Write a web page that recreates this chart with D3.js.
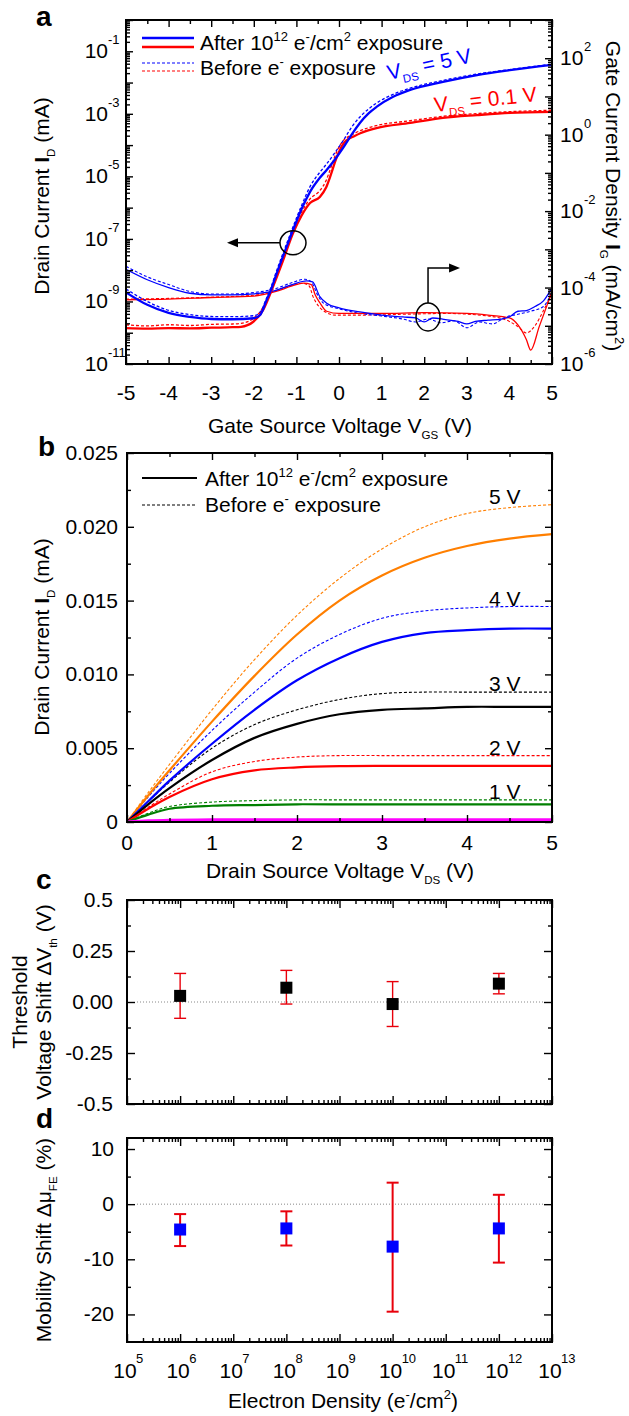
<!DOCTYPE html>
<html>
<head>
<meta charset="utf-8">
<script src="https://cdn.jsdelivr.net/npm/d3@7"></script>
<style>
  body { margin: 0; background: #fff; }
  svg text { font-family: "Liberation Sans", Arial, Helvetica, sans-serif; fill: #000; }
</style>
</head>
<body>
<svg id="fig" width="629" height="1416"></svg>
<script>
// ---------------- Panel a: transfer curves (VGS sweep) ----------------
// drain current I_D in mA, [VGS, I_D]
const idBlueAfter = [[-5,1.95e-9],[-4.5,7.8e-10],[-4,4.3e-10],[-3.5,3.2e-10],[-3,2.75e-10],[-2.5,2.7e-10],[-2,2.9e-10],[-1.85,3.7e-10],[-1.7,1.1e-9],[-1.6,2.3e-9],[-1.46,8.1e-9],[-1.23,5.6e-8],[-1.0,3.6e-7],[-0.85,1.1e-6],[-0.68,3.2e-6],[-0.45,9.0e-6],[-0.29,1.6e-5],[-0.1,3.4e-5],[0.1,8.3e-5],[0.3,2.2e-4],[0.49,5.1e-4],[0.7,1.05e-3],[0.88,1.66e-3],[1.27,3.5e-3],[1.67,5.8e-3],[2.44,1.05e-2],[3.24,1.74e-2],[4.01,2.5e-2],[5,3.7e-2]];
const idBlueBefore = [[-5,2.5e-9],[-4.5,1.0e-9],[-4,5.2e-10],[-3.5,3.8e-10],[-3,3.3e-10],[-2.5,3.25e-10],[-2,3.5e-10],[-1.85,4.5e-10],[-1.7,1.3e-9],[-1.6,2.8e-9],[-1.46,1.0e-8],[-1.23,7.0e-8],[-1.0,4.6e-7],[-0.85,1.45e-6],[-0.68,4.7e-6],[-0.45,1.35e-5],[-0.29,2.5e-5],[-0.1,5.6e-5],[0.1,1.4e-4],[0.3,3.8e-4],[0.49,7.9e-4],[0.7,1.45e-3],[0.88,2.2e-3],[1.27,4.2e-3],[1.67,6.6e-3],[2.44,1.17e-2],[3.24,1.86e-2],[4.01,2.6e-2],[5,3.9e-2]];
const idRedAfter = [[-5,1.4e-10],[-4.5,1.35e-10],[-4,1.4e-10],[-3.5,1.38e-10],[-3,1.45e-10],[-2.5,1.5e-10],[-2.3,1.55e-10],[-2.02,2.2e-10],[-1.78,5.4e-10],[-1.55,2.95e-9],[-1.31,2.1e-8],[-1.08,1.5e-7],[-0.88,5.5e-7],[-0.68,1.4e-6],[-0.45,2.2e-6],[-0.3,4.5e-6],[-0.21,9.5e-6],[-0.05,4.2e-5],[0.1,1.1e-4],[0.2,1.5e-4],[0.33,1.85e-4],[0.5,2.4e-4],[0.88,3.5e-4],[1.67,5.1e-4],[2.44,7.4e-4],[3.24,9.1e-4],[4.01,1.07e-3],[5,1.15e-3]];
const idRedBefore = [[-5,1.8e-10],[-4.5,1.65e-10],[-4,1.8e-10],[-3.5,1.7e-10],[-3,1.85e-10],[-2.5,1.9e-10],[-2.3,2.0e-10],[-2.02,2.8e-10],[-1.78,6.6e-10],[-1.55,3.6e-9],[-1.31,2.6e-8],[-1.08,1.9e-7],[-0.88,7.2e-7],[-0.68,1.9e-6],[-0.45,3.5e-6],[-0.3,7.5e-6],[-0.21,1.6e-5],[-0.05,6.3e-5],[0.1,1.4e-4],[0.2,1.8e-4],[0.33,2.25e-4],[0.5,2.9e-4],[0.88,4.2e-4],[1.67,6.0e-4],[2.44,8.3e-4],[3.24,1.02e-3],[4.01,1.17e-3],[5,1.3e-3]];

// gate current density I_G in mA/cm^2, [VGS, I_G]
const igBlueAfter = [[-5,3.0e-4],[-4.5,1.6e-4],[-4,1.0e-4],[-3.5,7.1e-5],[-3,6.4e-5],[-2.5,6.4e-5],[-2,6.8e-5],[-1.5,8.3e-5],[-1.1,1.2e-4],[-0.76,1.5e-4],[-0.62,1.4e-4],[-0.45,5.8e-5],[-0.29,3.9e-5],[0.02,2.9e-5],[0.49,2.3e-5],[1.0,1.9e-5],[1.5,1.7e-5],[1.8,1.6e-5],[2.0,1.26e-5],[2.2,1.6e-5],[2.5,1.45e-5],[2.8,1.3e-5],[3.0,1.12e-5],[3.2,1.3e-5],[3.5,1.4e-5],[3.8,1.5e-5],[4.0,1.7e-5],[4.2,2.4e-5],[4.4,2.5e-5],[4.6,3.2e-5],[4.8,4.5e-5],[5,1.0e-4]];
const igBlueBefore = [[-5,3.6e-4],[-4.5,1.9e-4],[-4,1.2e-4],[-3.5,7.9e-5],[-3,6.8e-5],[-2.5,6.8e-5],[-2,7.4e-5],[-1.5,9.3e-5],[-1.1,1.35e-4],[-0.8,1.65e-4],[-0.65,1.4e-4],[-0.5,6.3e-5],[-0.35,3.8e-5],[0,2.8e-5],[0.5,2.1e-5],[1,1.8e-5],[1.5,1.5e-5],[1.8,1.26e-5],[2.1,1.5e-5],[2.4,1.2e-5],[2.7,1.35e-5],[3.0,8.9e-6],[3.3,1.26e-5],[3.6,1.12e-5],[3.9,1.66e-5],[4.2,2.0e-5],[4.5,2.4e-5],[4.8,3.2e-5],[5,7.9e-5]];
const igRedAfter = [[-5,4.8e-5],[-4,5.0e-5],[-3,5.5e-5],[-2,6.0e-5],[-1.5,7.8e-5],[-1.1,1.1e-4],[-0.84,1.3e-4],[-0.65,1.2e-4],[-0.56,6.5e-5],[-0.45,4.0e-5],[-0.29,2.4e-5],[0,2.1e-5],[1,2.1e-5],[2,2.2e-5],[3,2.1e-5],[3.5,1.9e-5],[4.0,1.6e-5],[4.2,1.05e-5],[4.4,4.3e-6],[4.5,2.3e-6],[4.7,9.5e-6],[5,7.8e-5]];
const igRedBefore = [[-5,5.0e-5],[-4,5.2e-5],[-3,5.6e-5],[-2,6.3e-5],[-1.5,8.3e-5],[-1.1,1.15e-4],[-0.85,1.3e-4],[-0.7,1.1e-4],[-0.61,5.8e-5],[-0.45,3.0e-5],[-0.29,2.2e-5],[-0.1,1.9e-5],[0.5,1.9e-5],[1.5,2.0e-5],[2.5,2.1e-5],[3.5,1.8e-5],[4.0,1.3e-5],[4.2,9.5e-6],[4.4,6.5e-6],[4.6,1.0e-5],[4.8,2.5e-5],[5,7.1e-5]];

const vgsTicks = [-5,-4,-3,-2,-1,0,1,2,3,4,5];
const vgsTickLabels = ['-5','-4','-3','-2','-1','0','1','2','3','4','5'];
const idLabelExps = [-1,-3,-5,-7,-9,-11];
const igLabelExps = [2,0,-2,-4,-6];

// ---------------- Panel b: output curves (VDS sweep) ----------------
const vds = [0,0.25,0.5,1,1.5,2,2.5,3,3.5,4,4.5,5];
const vgsSteps = ['5 V','4 V','3 V','2 V','1 V','0 V'];
const outColors = ['#ff7f00','#0000ff','#000000','#ff0000','#008000','#ff00ff'];
const outAfter = [
  [0,0.0018,0.0035,0.0068,0.0099,0.0127,0.0150,0.0167,0.0179,0.0187,0.0192,0.0195],
  [0,0.0014,0.0028,0.0053,0.0076,0.0096,0.0111,0.0122,0.0128,0.0130,0.0131,0.0131],
  [0,0.0012,0.0023,0.0042,0.0057,0.00665,0.0073,0.0076,0.0077,0.0078,0.0078,0.0078],
  [0,0.0009,0.0017,0.0029,0.0035,0.0037,0.00378,0.0038,0.0038,0.0038,0.0038,0.0038],
  [0,0.0005,0.0009,0.0011,0.00115,0.0012,0.0012,0.0012,0.0012,0.0012,0.0012,0.0012],
  [0,0.00008,0.00012,0.00015,0.00015,0.00015,0.00015,0.00015,0.00015,0.00015,0.00015,0.00015]
];
const outBefore = [
  [0,0.0020,0.0039,0.0076,0.0110,0.0140,0.0165,0.0185,0.0200,0.0209,0.0213,0.0215],
  [0,0.0017,0.0033,0.0062,0.0088,0.0111,0.0127,0.0138,0.0143,0.0145,0.0146,0.0146],
  [0,0.0014,0.0027,0.0050,0.0066,0.0076,0.0083,0.0087,0.0088,0.0088,0.0088,0.0088],
  [0,0.0010,0.0019,0.0034,0.0041,0.0044,0.0045,0.0045,0.0045,0.0045,0.0045,0.0045],
  [0,0.0006,0.00105,0.00135,0.00145,0.0015,0.0015,0.0015,0.0015,0.0015,0.0015,0.0015],
  [0,0.00005,0.00008,0.0001,0.0001,0.0001,0.0001,0.0001,0.0001,0.0001,0.0001,0.0001]
];
const vdsTicks = [0,1,2,3,4,5];
const idLinTicks = [0,0.005,0.010,0.015,0.020,0.025];
const idLinLabels = ['0','0.005','0.010','0.015','0.020','0.025'];

// ---------------- Panels c, d: shifts vs electron density ----------------
const density = [1e6,1e8,1e10,1e12];
const dVth = [0.03,0.07,-0.01,0.09];
const dVthLow = [-0.08,-0.01,-0.12,0.04];
const dVthHigh = [0.14,0.155,0.10,0.14];
const dMu = [-4.6,-4.4,-7.7,-4.4];
const dMuLow = [-7.6,-7.5,-19.5,-10.6];
const dMuHigh = [-1.8,-1.3,3.9,1.7];
const densityExps = [5,6,7,8,9,10,11,12,13];
const vthTicks = [0.5,0.25,0,-0.25,-0.5];
const vthLabels = ['0.5','0.25','0.00','-0.25','-0.5'];
const muTicks = [10,0,-10,-20];
const muLabels = ['10','0','-10','-20'];

// =====================================================================
const svg = d3.select('#fig');
const TICK = 21, SUP = 13;

// text with inline super/subscripts; parts = [[string, kind]]
function rich(sel, parts, size) {
  let off = 0;
  parts.forEach(([s, k]) => {
    const t = sel.append('tspan').text(s);
    let target = 0, fs = size;
    if (k === 'sup') { target = -size * 0.42; fs = size * 0.62; }
    if (k === 'sub') { target = size * 0.28; fs = size * 0.55; }
    if (k === 'b') t.attr('font-weight', 'bold');
    t.attr('font-size', fs).attr('dy', (target - off).toFixed(2));
    off = target;
  });
  return sel;
}

// inward tick marks along one side of a frame
function ticks(scale, orient, pos, values, len) {
  const mk = { bottom: d3.axisBottom, top: d3.axisTop, left: d3.axisLeft, right: d3.axisRight }[orient];
  const ax = mk(scale).tickValues(values).tickSize(-len).tickSizeOuter(0).tickFormat('');
  const tr = (orient === 'bottom' || orient === 'top') ? `translate(0,${pos})` : `translate(${pos},0)`;
  const g = svg.append('g').attr('transform', tr).call(ax);
  g.select('.domain').remove();
  g.selectAll('text').remove();
  g.selectAll('line').attr('stroke', '#000').attr('stroke-width', 1.4);
}

function frame(x, y) {
  const [x0, x1] = x.range(), [y0, y1] = y.range();
  svg.append('rect').attr('x', Math.min(x0, x1)).attr('y', Math.min(y0, y1))
    .attr('width', Math.abs(x1 - x0)).attr('height', Math.abs(y1 - y0))
    .attr('fill', 'none').attr('stroke', '#000').attr('stroke-width', 2);
}

function logTickSet(lo, hi) {
  const major = [], minor = [];
  for (let e = lo; e <= hi; e++) {
    major.push(Math.pow(10, e));
    if (e < hi) for (let m = 2; m <= 9; m++) minor.push(m * Math.pow(10, e));
  }
  return { major, minor };
}

function clip(id, x, y) {
  const [x0, x1] = x.range(), [y0, y1] = y.range();
  svg.append('clipPath').attr('id', id).append('rect')
    .attr('x', x0).attr('y', Math.min(y0, y1)).attr('width', x1 - x0).attr('height', Math.abs(y1 - y0));
}

function letter(s, x, y) {
  svg.append('text').attr('x', x).attr('y', y).attr('font-size', 28).attr('font-weight', 'bold').text(s);
}

function arrowHead(x, y, dir) {
  const L = 11, w = 4.5;
  const pts = dir === 'left' ? [[x, y], [x + L, y - w], [x + L, y + w]] : [[x, y], [x - L, y - w], [x - L, y + w]];
  svg.append('polygon').attr('points', pts.map(p => p.join(',')).join(' ')).attr('fill', '#000');
}

// ---------------- Panel a ----------------
const xA = d3.scaleLinear([-5, 5], [126, 552]);
const yL = d3.scaleLog([1e-11, 1], [364, 20]);
const yR = d3.scaleLog([1e-6, 1e3], [364, 20]);
clip('clipA', xA, yL);

const lineL = d3.line().x(d => xA(d[0])).y(d => yL(d[1])).curve(d3.curveMonotoneX);
const lineR = d3.line().x(d => xA(d[0])).y(d => yR(d[1])).curve(d3.curveMonotoneX);
const gA = svg.append('g').attr('clip-path', 'url(#clipA)');
const seriesA = [
  [igRedBefore, lineR, '#ff0000', 1.1, '3,2'],
  [igBlueBefore, lineR, '#0000ff', 1.1, '3,2'],
  [igRedAfter, lineR, '#ff0000', 1.3, null],
  [igBlueAfter, lineR, '#0000ff', 1.3, null],
  [idRedBefore, lineL, '#ff0000', 1.3, '3,2'],
  [idBlueBefore, lineL, '#0000ff', 1.3, '3,2'],
  [idRedAfter, lineL, '#ff0000', 2.3, null],
  [idBlueAfter, lineL, '#0000ff', 2.3, null]
];
seriesA.forEach(([d, gen, c, w, dash]) => {
  gA.append('path').attr('d', gen(d)).attr('fill', 'none').attr('stroke', c)
    .attr('stroke-width', w).attr('stroke-dasharray', dash);
});

frame(xA, yL);
const halfA = d3.range(-10, 11).filter(i => i % 2 !== 0).map(i => i / 2);
ticks(xA, 'bottom', 364, vgsTicks, 7); ticks(xA, 'bottom', 364, halfA, 4);
ticks(xA, 'top', 20, vgsTicks, 7); ticks(xA, 'top', 20, halfA, 4);
const lt = logTickSet(-11, 0), rt = logTickSet(-6, 3);
ticks(yL, 'left', 126, lt.major, 7); ticks(yL, 'left', 126, lt.minor, 4);
ticks(yR, 'right', 552, rt.major, 7); ticks(yR, 'right', 552, rt.minor, 4);

vgsTicks.forEach((v, i) => {
  svg.append('text').attr('x', xA(v)).attr('y', 400).attr('text-anchor', 'middle')
    .attr('font-size', TICK).text(vgsTickLabels[i]);
});
idLabelExps.forEach(e => {
  const y = yL(Math.pow(10, e));
  svg.append('text').attr('x', 108).attr('y', y + 7).attr('text-anchor', 'end').attr('font-size', TICK).text('10');
  svg.append('text').attr('x', 108).attr('y', y - 7).attr('font-size', SUP).text(String(e));
});
igLabelExps.forEach(e => {
  const y = yR(Math.pow(10, e));
  svg.append('text').attr('x', 560).attr('y', y + 7).attr('font-size', TICK).text('10');
  svg.append('text').attr('x', 584).attr('y', y - 7).attr('font-size', SUP).text(String(e));
});

rich(svg.append('text').attr('x', 340).attr('y', 433).attr('text-anchor', 'middle').attr('font-size', TICK),
  [['Gate Source Voltage V', 'n'], ['GS', 'sub'], [' (V)', 'n']], TICK);
rich(svg.append('text').attr('transform', 'translate(49,196) rotate(-90)').attr('text-anchor', 'middle').attr('font-size', TICK),
  [['Drain Current ', 'n'], ['I', 'b'], ['D', 'sub'], [' (mA)', 'n']], TICK);
rich(svg.append('text').attr('transform', 'translate(606,196) rotate(90)').attr('text-anchor', 'middle').attr('font-size', TICK),
  [['Gate Current Density ', 'n'], ['I', 'b'], ['G', 'sub'], [' (mA/cm', 'n'], ['2', 'sup'], [')', 'n']], TICK);

// legend a
[[38, '#0000ff', 2.3, null], [47, '#ff0000', 2.3, null], [63, '#0000ff', 1.2, '3,2'], [71, '#ff0000', 1.2, '3,2']]
  .forEach(([y, c, w, dash]) => svg.append('line').attr('x1', 142).attr('x2', 194).attr('y1', y).attr('y2', y)
    .attr('stroke', c).attr('stroke-width', w).attr('stroke-dasharray', dash));
rich(svg.append('text').attr('x', 200).attr('y', 50).attr('font-size', TICK),
  [['After 10', 'n'], ['12', 'sup'], [' e', 'n'], ['-', 'sup'], ['/cm', 'n'], ['2', 'sup'], [' exposure', 'n']], TICK);
rich(svg.append('text').attr('x', 200).attr('y', 75).attr('font-size', TICK),
  [['Before e', 'n'], ['-', 'sup'], [' exposure', 'n']], TICK);

// curve labels a
rich(svg.append('text').attr('transform', `translate(${xA(1.17)},${yL(1.2e-2)}) rotate(-12)`).attr('font-size', TICK)
  .style('fill', '#0000ff'), [['V', 'n'], ['DS', 'sub'], [' = 5 V', 'n']], TICK);
rich(svg.append('text').attr('transform', `translate(${xA(2.25)},${yL(1.15e-3)}) rotate(-6)`).attr('font-size', TICK)
  .style('fill', '#ff0000'), [['V', 'n'], ['DS', 'sub'], [' = 0.1 V', 'n']], TICK);

// axis indicators a
{
  const cx = xA(-1.08), cy = yL(7.5e-8);
  svg.append('ellipse').attr('cx', cx).attr('cy', cy).attr('rx', 13).attr('ry', 12)
    .attr('fill', 'none').attr('stroke', '#000').attr('stroke-width', 1.5);
  svg.append('line').attr('x1', cx - 13).attr('x2', cx - 56).attr('y1', cy).attr('y2', cy).attr('stroke', '#000').attr('stroke-width', 1.5);
  arrowHead(cx - 66, cy, 'left');
  const cx2 = xA(2.09), cy2 = yR(1.7e-5);
  svg.append('ellipse').attr('cx', cx2).attr('cy', cy2).attr('rx', 12).attr('ry', 14)
    .attr('fill', 'none').attr('stroke', '#000').attr('stroke-width', 1.5);
  svg.append('polyline').attr('points', `${cx2},${cy2 - 14} ${cx2},${cy2 - 49} ${cx2 + 22},${cy2 - 49}`)
    .attr('fill', 'none').attr('stroke', '#000').attr('stroke-width', 1.5);
  arrowHead(cx2 + 32, cy2 - 49, 'right');
}
letter('a', 36, 26);

// ---------------- Panel b ----------------
const xB = d3.scaleLinear([0, 5], [127, 552]);
const yB = d3.scaleLinear([0, 0.025], [822, 453]);
clip('clipB', xB, yB);
const gB = svg.append('g').attr('clip-path', 'url(#clipB)');
const lineB = d3.line().x(d => xB(d[0])).y(d => yB(d[1])).curve(d3.curveCatmullRom.alpha(0.5));
outBefore.forEach((s, i) => {
  gB.append('path').attr('d', lineB(vds.map((v, j) => [v, s[j]]))).attr('fill', 'none')
    .attr('stroke', outColors[i]).attr('stroke-width', 1.1).attr('stroke-dasharray', '3,2');
});
outAfter.forEach((s, i) => {
  gB.append('path').attr('d', lineB(vds.map((v, j) => [v, s[j]]))).attr('fill', 'none')
    .attr('stroke', outColors[i]).attr('stroke-width', i === 5 ? 3 : 2.2);
});
frame(xB, yB);
const halfB = [0.5, 1.5, 2.5, 3.5, 4.5];
ticks(xB, 'bottom', 822, vdsTicks, 7); ticks(xB, 'bottom', 822, halfB, 4);
ticks(xB, 'top', 453, vdsTicks, 7); ticks(xB, 'top', 453, halfB, 4);
const minorB = [0.0025, 0.0075, 0.0125, 0.0175, 0.0225];
ticks(yB, 'left', 127, idLinTicks, 7); ticks(yB, 'left', 127, minorB, 4);
ticks(yB, 'right', 552, idLinTicks, 7); ticks(yB, 'right', 552, minorB, 4);
vdsTicks.forEach(v => svg.append('text').attr('x', xB(v)).attr('y', 850).attr('text-anchor', 'middle')
  .attr('font-size', TICK).text(String(v)));
idLinTicks.forEach((v, i) => svg.append('text').attr('x', 118).attr('y', yB(v) + 7).attr('text-anchor', 'end')
  .attr('font-size', TICK).text(idLinLabels[i]));
rich(svg.append('text').attr('x', 340).attr('y', 878).attr('text-anchor', 'middle').attr('font-size', TICK),
  [['Drain Source Voltage V', 'n'], ['DS', 'sub'], [' (V)', 'n']], TICK);
rich(svg.append('text').attr('transform', 'translate(49,637) rotate(-90)').attr('text-anchor', 'middle').attr('font-size', TICK),
  [['Drain Current ', 'n'], ['I', 'b'], ['D', 'sub'], [' (mA)', 'n']], TICK);
// step labels, sitting on each dashed curve end
vgsSteps.slice(0, 5).forEach((s, i) => {
  svg.append('text').attr('x', xB(4.63)).attr('y', yB(outBefore[i][vds.length - 1]) - 1)
    .attr('text-anchor', 'end').attr('font-size', TICK).text(s);
});
svg.append('line').attr('x1', 142).attr('x2', 197).attr('y1', 478).attr('y2', 478).attr('stroke', '#000').attr('stroke-width', 2.2);
svg.append('line').attr('x1', 142).attr('x2', 197).attr('y1', 505).attr('y2', 505).attr('stroke', '#000').attr('stroke-width', 1.1).attr('stroke-dasharray', '3,2');
rich(svg.append('text').attr('x', 205).attr('y', 486).attr('font-size', TICK),
  [['After 10', 'n'], ['12', 'sup'], [' e', 'n'], ['-', 'sup'], ['/cm', 'n'], ['2', 'sup'], [' exposure', 'n']], TICK);
rich(svg.append('text').attr('x', 205).attr('y', 512).attr('font-size', TICK),
  [['Before e', 'n'], ['-', 'sup'], [' exposure', 'n']], TICK);
letter('b', 38, 456);

// ---------------- Panels c and d ----------------
const xC = d3.scaleLog([1e5, 1e13], [127, 552]);
const yC = d3.scaleLinear([-0.5, 0.5], [1104, 900]);
const yD = d3.scaleLinear([-25, 12], [1342, 1138]);
const dt = logTickSet(5, 13);

function shiftPanel(y, vals, lo, hi, fill, barW, major, minor, top, bottom) {
  svg.append('line').attr('x1', 137).attr('x2', 545).attr('y1', y(0)).attr('y2', y(0))
    .attr('stroke', '#888').attr('stroke-width', 1).attr('stroke-dasharray', '1,2');
  density.forEach((n, i) => {
    const x = xC(n);
    svg.append('line').attr('x1', x).attr('x2', x).attr('y1', y(lo[i])).attr('y2', y(hi[i]))
      .attr('stroke', '#e8000b').attr('stroke-width', barW);
    [lo[i], hi[i]].forEach(v => svg.append('line').attr('x1', x - 6).attr('x2', x + 6)
      .attr('y1', y(v)).attr('y2', y(v)).attr('stroke', '#e8000b').attr('stroke-width', barW));
    svg.append('rect').attr('x', x - 6).attr('y', y(vals[i]) - 6).attr('width', 12).attr('height', 12).attr('fill', fill);
  });
  frame(xC, y);
  ticks(xC, 'bottom', bottom, dt.major, 8); ticks(xC, 'bottom', bottom, dt.minor, 4);
  ticks(xC, 'top', top, dt.major, 8); ticks(xC, 'top', top, dt.minor, 4);
  ticks(y, 'left', 127, major, 8); ticks(y, 'left', 127, minor, 4);
  ticks(y, 'right', 552, major, 8); ticks(y, 'right', 552, minor, 4);
}

shiftPanel(yC, dVth, dVthLow, dVthHigh, '#000', 1.4, vthTicks, [0.375, 0.125, -0.125, -0.375], 900, 1104);
vthTicks.forEach((v, i) => svg.append('text').attr('x', 113).attr('y', yC(v) + 7).attr('text-anchor', 'end')
  .attr('font-size', TICK).text(vthLabels[i]));
svg.append('text').attr('transform', 'translate(27,1002) rotate(-90)').attr('text-anchor', 'middle')
  .attr('font-size', TICK).text('Threshold');
rich(svg.append('text').attr('transform', 'translate(51,1002) rotate(-90)').attr('text-anchor', 'middle').attr('font-size', TICK),
  [['Voltage Shift \u0394V', 'n'], ['th', 'sub'], [' (V)', 'n']], TICK);
letter('c', 36, 889);

shiftPanel(yD, dMu, dMuLow, dMuHigh, '#0000ff', 2, muTicks, [5, -5, -15], 1138, 1342);
muTicks.forEach((v, i) => svg.append('text').attr('x', 114).attr('y', yD(v) + 7).attr('text-anchor', 'end')
  .attr('font-size', TICK).text(muLabels[i]));
densityExps.forEach(e => {
  const x = xC(Math.pow(10, e));
  svg.append('text').attr('x', x - 2).attr('y', 1378).attr('text-anchor', 'middle').attr('font-size', TICK).text('10');
  svg.append('text').attr('x', x + 9).attr('y', 1363).attr('font-size', SUP).text(String(e));
});
rich(svg.append('text').attr('transform', 'translate(51,1240) rotate(-90)').attr('text-anchor', 'middle').attr('font-size', TICK),
  [['Mobility Shift \u0394\u03bc', 'n'], ['FE', 'sub'], [' (%)', 'n']], TICK);
rich(svg.append('text').attr('x', 343).attr('y', 1408).attr('text-anchor', 'middle').attr('font-size', TICK),
  [['Electron Density (e', 'n'], ['-', 'sup'], ['/cm', 'n'], ['2', 'sup'], [')', 'n']], TICK);
letter('d', 36, 1128);
</script>
</body>
</html>
